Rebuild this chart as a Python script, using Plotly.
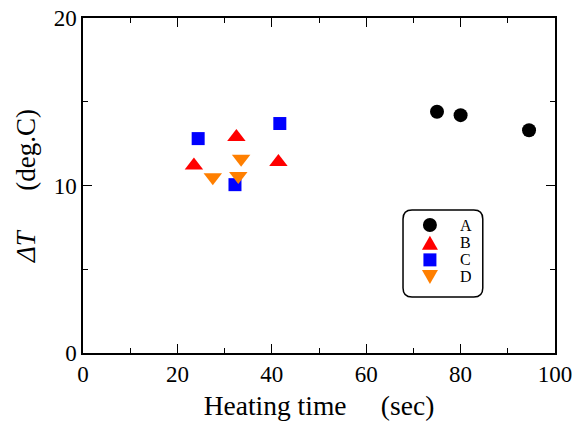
import plotly.graph_objects as go

# Heating time (sec) and temperature rise (deg.C) per series
a_time = [75.0, 80.0, 94.5]
a_dT = [14.4, 14.2, 13.3]

b_time = [23.5, 32.5, 41.4]
b_dT = [11.2, 12.9, 11.4]

c_time = [24.4, 32.2, 41.7]
c_dT = [12.8, 10.05, 13.7]

d_time = [27.5, 33.5, 32.9]
d_dT = [10.5, 11.6, 10.57]

names = ["A", "B", "C", "D"]
times = [a_time, b_time, c_time, d_time]
temps = [a_dT, b_dT, c_dT, d_dT]
symbols = ["circle", "triangle-up", "square", "triangle-down"]
colors = ["black", "#ff0000", "#0000ff", "#ff7f00"]
sizes = [14, 16, 13, 16]

FONT = "Liberation Serif"
nb = "\u00a0"

fig = go.Figure()
for name, xs, ys, sym, col, sz in zip(names, times, temps, symbols, colors, sizes):
    fig.add_trace(go.Scatter(
        x=xs, y=ys, mode="markers", name=name, showlegend=False,
        marker=dict(symbol=sym, color=col, size=sz, line=dict(width=0)),
    ))

axis_common = dict(
    showline=True, linecolor="black", linewidth=1.5, mirror="ticks",
    ticks="inside", ticklen=9, tickwidth=1.2, tickcolor="black",
    showgrid=False, zeroline=False, automargin=False,
    tickfont=dict(family=FONT, size=23, color="black"),
)

fig.update_layout(
    width=573, height=421,
    margin=dict(l=83, r=18, t=18, b=68),
    paper_bgcolor="white", plot_bgcolor="white",
    font=dict(family=FONT, color="black"),
    showlegend=False,
    xaxis=dict(
        range=[0, 100], dtick=20,
        minor=dict(dtick=10, ticks="inside", ticklen=5, tickwidth=1.2, tickcolor="black"),
        title=dict(text="Heating time" + nb * 5 + "(sec)", font=dict(family=FONT, size=27.5), standoff=9),
        **axis_common,
    ),
    yaxis=dict(
        range=[0, 20], dtick=10,
        minor=dict(dtick=5, ticks="inside", ticklen=5, tickwidth=1.2, tickcolor="black"),
        title=dict(text="<i>ΔT</i>" + nb * 6 + "(deg.C)", font=dict(family=FONT, size=27), standoff=10),
        **axis_common,
    ),
)

# Legend: rounded frame, key symbols drawn in pixel units, and labels
x0, x1, y0, y1 = 0.678, 0.847, 0.167, 0.427
rx, ry = 9 / 472, 9 / 335
frame = (
    f"M {x0+rx},{y1} L {x1-rx},{y1} Q {x1},{y1} {x1},{y1-ry} "
    f"L {x1},{y0+ry} Q {x1},{y0} {x1-rx},{y0} "
    f"L {x0+rx},{y0} Q {x0},{y0} {x0},{y0+ry} "
    f"L {x0},{y1-ry} Q {x0},{y1} {x0+rx},{y1} Z"
)
fig.add_shape(type="path", path=frame, xref="paper", yref="paper",
              line=dict(color="black", width=1.5))

key_x = 0.735
label_x = 0.797
row_y = [0.382, 0.329, 0.278, 0.227]
key_paths = {
    "triangle-up": "M -8,-7 L 8,-7 L 0,7 Z",
    "triangle-down": "M -8,7 L 8,7 L 0,-7 Z",
    "square": "M -6.5,-6.5 L 6.5,-6.5 L 6.5,6.5 L -6.5,6.5 Z",
}
for name, sym, col, yy in zip(names, symbols, colors, row_y):
    common = dict(xref="paper", yref="paper", xsizemode="pixel", ysizemode="pixel",
                  xanchor=key_x, yanchor=yy, fillcolor=col, line=dict(width=0))
    if sym == "circle":
        fig.add_shape(type="circle", x0=-7, x1=7, y0=-7, y1=7, **common)
    else:
        fig.add_shape(type="path", path=key_paths[sym], **common)
    fig.add_annotation(x=label_x, y=yy, xref="paper", yref="paper", text=name,
                       showarrow=False, xanchor="left", yanchor="middle",
                       height=17, borderpad=0,
                       font=dict(family=FONT, size=16, color="black"))

fig.write_html("out.html")
